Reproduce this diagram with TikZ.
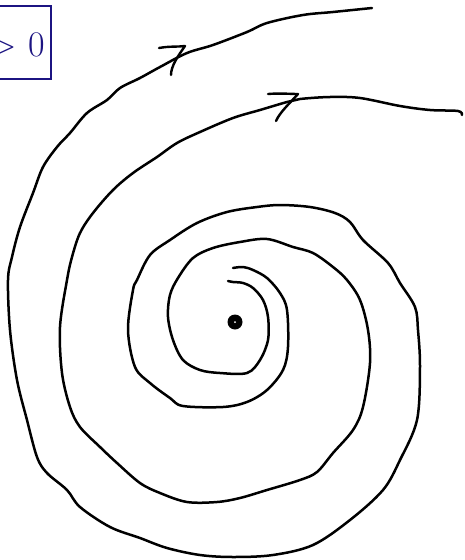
\documentclass[tikz,border=0pt]{standalone}
\usepackage{tikz}
\definecolor{boxnavy}{RGB}{28,20,130}
\begin{document}
\begin{tikzpicture}[x=1pt,y=-1pt,
  traj/.style={line width=2.5pt,line cap=round,line join=round},
  tip/.style={line width=2.4pt,line cap=round,line join=round}]
\useasboundingbox (0,0) rectangle (464,560);
\clip (0,0) rectangle (464,560);
% label box
\draw[boxnavy,line width=2.2pt] (-30,6) rectangle (51,79);
\node[boxnavy,anchor=east,inner sep=0pt,font=\fontsize{36}{36}\selectfont] (lbl) at (45,45) {> 0};
% outer trajectory
\draw[traj] plot[smooth,tension=0.55] coordinates {
(372,8) (333,12) (303,15) (267,23) (247,32) (213,45) (187,53) (160,67) (140,78) (120,88) (107,100) (87,113) (70,133) (57,147) (43,167) (33,193) (20,227) (12,257) (8,280)
(10,330) (17,380) (27,420) (37,457) (47,473) (67,490) (80,507) (110,527) (140,538) (167,548) (200,555) (233,557) (273,555) (313,545) (350,520) (383,490) (400,460) (417,420) (420,367) (418,330) (415,307) (400,283)
(388,263) (363,240) (350,222) (335,213) (310,207) (280,205) (257,207) (227,212) (197,223) (170,240) (150,255) (137,280) (133,290) (128,330) (135,367) (150,383) (170,398) (183,406) (223,407) (247,402) (267,390) (283,370) (288,347) (287,310) (280,293) (267,278) (253,270) (243,267) (233,268)};
% second trajectory
\draw[traj] plot[smooth,tension=0.55] coordinates {
(462,115) (458,111) (430,110) (400,106) (360,98) (330,97) (300,99) (287,102) (260,110) (233,118) (200,132) (177,143) (157,157) (133,173) (113,190) (93,213) (80,233) (72,257) (67,280)
(60,327) (62,373) (70,407) (80,427) (100,447) (117,463) (140,483) (160,493) (187,502) (217,502) (240,498) (267,490) (300,480) (317,472) (333,453) (353,430) (363,407) (370,363) (368,330) (360,300) (347,280)
(333,267) (313,253) (293,247) (267,239) (240,242) (213,248) (193,258) (178,278) (170,295) (168,317) (173,340) (183,360) (200,370) (220,373) (247,373) (260,360) (268,340) (268,317) (263,300) (253,288) (243,283) (233,282) (228,281)};
% arrow tips
\draw[tip] (159,48) .. controls (170,46) and (178,47) .. (185,46) .. controls (178,56) and (171,66) .. (171,75);
\draw[tip] (268,94) .. controls (280,93) and (290,94) .. (298,94) .. controls (290,103) and (280,112) .. (276,121);
% fixed point
\fill (235,322) circle (7.5);
\fill[white] (235,322) circle (1);
\end{tikzpicture}
\end{document}
